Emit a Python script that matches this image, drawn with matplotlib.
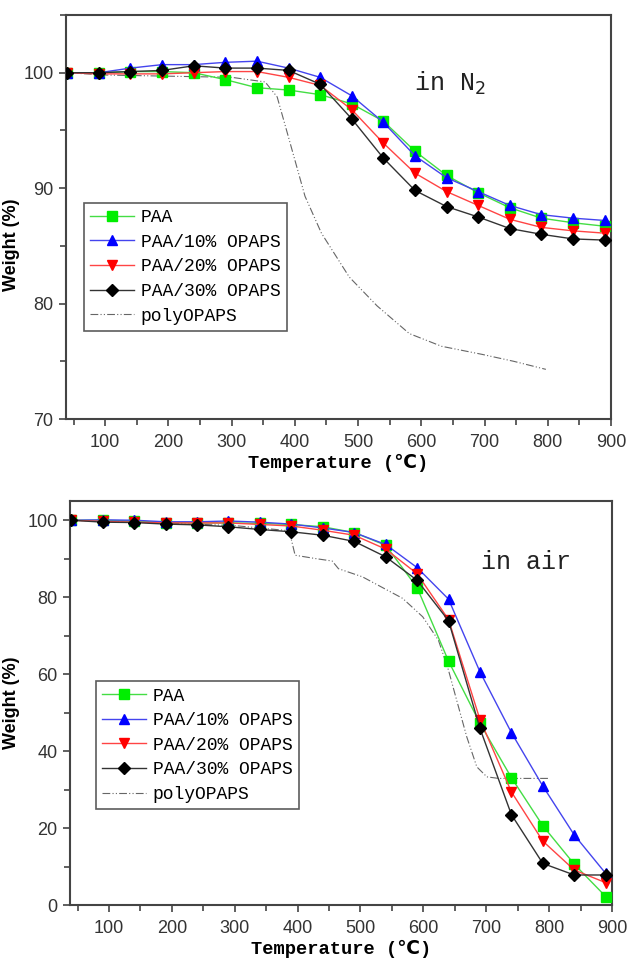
import matplotlib
matplotlib.use("Agg")
import matplotlib.pyplot as plt
from matplotlib.ticker import MultipleLocator

# ---------------- data ----------------
temps = [40, 90, 140, 190, 240, 290, 340, 390, 440, 490, 540, 590, 640, 690, 740, 790, 840, 890]

n2_paa   = [100, 100, 100.1, 100.1, 100.0, 99.4, 98.7, 98.5, 98.1, 97.3, 95.8, 93.2, 91.1, 89.6, 88.3, 87.4, 87.0, 86.7]
n2_paa10 = [100, 100, 100.4, 100.7, 100.7, 100.9, 101.0, 100.4, 99.6, 98.0, 95.7, 92.8, 90.9, 89.7, 88.5, 87.7, 87.4, 87.2]
n2_paa20 = [100, 99.9, 99.9, 99.9, 100.0, 100.1, 100.1, 99.6, 98.9, 96.8, 93.9, 91.3, 89.7, 88.5, 87.3, 86.6, 86.3, 86.1]
n2_paa30 = [100, 100, 100.1, 100.2, 100.6, 100.4, 100.4, 100.2, 99.0, 96.0, 92.6, 89.8, 88.4, 87.5, 86.5, 86.0, 85.6, 85.5]
n2_poly_t = [40, 100, 200, 300, 353, 372, 391, 416, 442, 486, 530, 581, 632, 696, 746, 797]
n2_poly_w = [100, 99.8, 99.7, 99.6, 99.2, 97.9, 94.2, 89.3, 86.1, 82.3, 79.8, 77.4, 76.3, 75.6, 75.0, 74.3]

air_paa   = [100, 100, 99.8, 99.4, 99.3, 99.3, 99.2, 98.9, 98.3, 96.8, 93.5, 82.5, 63.4, 47.2, 33.1, 20.6, 10.6, 2.2]
air_paa10 = [100, 100.1, 100, 99.6, 99.6, 99.8, 99.5, 99.0, 98.0, 96.8, 93.7, 87.7, 79.5, 60.6, 44.8, 30.9, 18.2, 8.2]
air_paa20 = [100, 99.7, 99.5, 99.3, 99.3, 99.3, 98.9, 98.5, 97.4, 96.1, 92.5, 86.1, 74.2, 48.2, 29.4, 16.6, 9.1, 5.8]
air_paa30 = [100, 99.5, 99.4, 99.0, 98.8, 98.3, 97.6, 97.0, 96.1, 94.5, 90.5, 84.4, 73.9, 45.9, 23.5, 10.8, 7.8, 7.8]
air_poly_t = [40, 100, 200, 300, 385, 390, 396, 430, 455, 465, 503, 567, 599, 624, 640, 653, 669, 685, 701, 720, 800]
air_poly_w = [100, 99.7, 99.2, 98.6, 97.3, 95.0, 90.9, 90.0, 89.4, 87.4, 85.3, 79.7, 74.9, 68.8, 61.0, 53.2, 43.7, 35.9, 33.3, 32.9, 32.9]

labels = ["PAA", "PAA/10% OPAPS", "PAA/20% OPAPS", "PAA/30% OPAPS", "polyOPAPS"]
colors = ["#00ee00", "#0000ff", "#ff0000", "#000000"]
markers = ["s", "^", "v", "D"]
line_colors = ["#44dd44", "#4444ee", "#ff4444", "#333333"]

mono = ["Liberation Mono", "DejaVu Sans Mono", "DejaVu Sans"]
sans = ["Liberation Sans", "DejaVu Sans"]

fig = plt.figure(figsize=(6.3, 9.58), dpi=100)
ax1 = fig.add_axes([66/630, 1-419/958, (611-66)/630, (419-15)/958])
ax2 = fig.add_axes([70/630, 1-905/958, (612-70)/630, (905-501)/958])


def draw(ax, series, poly_t, poly_w):
    handles = []
    for ys, c, lc, m in zip(series, colors, line_colors, markers):
        ms = 7 if m != "D" else 6.5
        h, = ax.plot(temps, ys, color=lc, lw=1.0, marker=m, ms=ms,
                     mfc=c, mec=c, zorder=3)
        handles.append(h)
    hp, = ax.plot(poly_t, poly_w, color="#666666", lw=0.8,
                  linestyle=(0, (7, 2, 1, 2, 1, 2)), zorder=2)
    handles.append(hp)
    return handles


def style(ax, ylim, ymaj, ymin, ylab_xy):
    ax.set_xlim(38, 900)
    ax.set_ylim(*ylim)
    ax.xaxis.set_major_locator(MultipleLocator(100))
    ax.xaxis.set_minor_locator(MultipleLocator(50))
    ax.yaxis.set_major_locator(MultipleLocator(ymaj))
    ax.yaxis.set_minor_locator(MultipleLocator(ymin))
    for s in ax.spines.values():
        s.set_color("#444444")
        s.set_linewidth(1.5)
    ax.tick_params(which="both", direction="out", top=False, right=False,
                   color="#444444", width=1.2)
    ax.tick_params(which="major", length=5, labelsize=13, labelcolor="#333333", pad=4)
    ax.tick_params(which="minor", length=4)
    ax.tick_params(axis="x", which="major", pad=6)
    for lab in ax.get_xticklabels() + ax.get_yticklabels():
        lab.set_family(sans)
    ax.set_ylabel("Weight (%)", fontsize=13, fontweight="bold", family=sans)
    ax.yaxis.set_label_coords(*ylab_xy)
    ax.set_xlabel("Temperature (℃)", fontsize=13.5, fontweight="bold",
                  family=mono, labelpad=2)


def legend(ax, handles, anchor):
    leg = ax.legend(handles, labels, loc="upper left", bbox_to_anchor=anchor,
                    prop={"family": mono, "size": 13}, frameon=True, fancybox=False,
                    edgecolor="#333333", handlelength=2.4, numpoints=1,
                    borderpad=0.35, labelspacing=0.42, handletextpad=0.4,
                    borderaxespad=0)
    leg.get_frame().set_linewidth(1.2)
    return leg


h1 = draw(ax1, [n2_paa, n2_paa10, n2_paa20, n2_paa30], n2_poly_t, n2_poly_w)
style(ax1, (70, 105), 10, 5, ((20-66)/545, 1-(245-15)/404))
ax1.set_yticks([70, 80, 90, 100])
ax1.text(588, 99.1, "in N$_2$", fontsize=18, family=mono, va="center", ha="left", color="#222222")
legend(ax1, h1, (0.033, 0.535))

h2 = draw(ax2, [air_paa, air_paa10, air_paa20, air_paa30], air_poly_t, air_poly_w)
style(ax2, (0, 105), 20, 10, ((20-70)/542, 0.5))
ax2.set_yticks([0, 20, 40, 60, 80, 100])
ax2.text(691, 89.2, "in air", fontsize=18, family=mono, va="center", ha="left", color="#222222")
legend(ax2, h2, (0.048, 0.554))

fig.savefig("out.png", dpi=100)
